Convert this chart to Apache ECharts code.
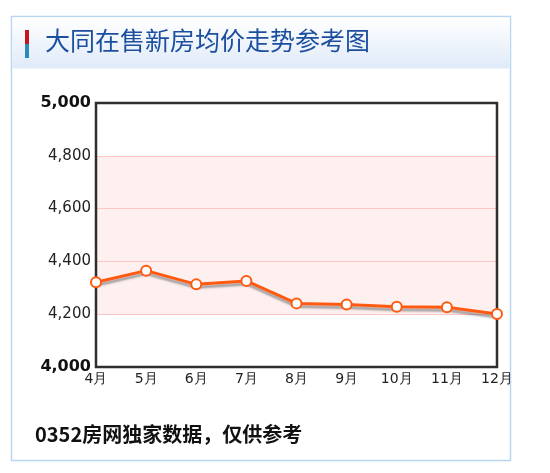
<!DOCTYPE html>
<html><head><meta charset="utf-8">
<script src="https://cdn.jsdelivr.net/npm/echarts@6/dist/echarts.min.js"></script>
<style>html,body{margin:0;padding:0;background:#fff}#c{width:550px;height:473px}</style>
</head><body><div id="c"></div>
<script>
const months = ['4月','5月','6月','7月','8月','9月','10月','11月','12月'];
const prices = [4321, 4365, 4313, 4326, 4241, 4237, 4228, 4226, 4201];
const yMin = 4000, yMax = 5000, yStep = 200;
const titleText = '大同在售新房均价走势参考图';
const footText = '0352房网独家数据，仅供参考';

const chart = echarts.init(document.getElementById('c'), null, {renderer:'canvas'});
chart.setOption({
  animation:false,
  backgroundColor:'#fff',
  graphic:[
    {type:'rect', shape:{x:11.5,y:16.5,width:499,height:444}, style:{fill:'#fff',stroke:'#b9d5f2',lineWidth:1.5}, z:-10},
    {type:'rect', shape:{x:12.5,y:17.5,width:497,height:51},
     style:{fill:new echarts.graphic.LinearGradient(0,0,0,1,[{offset:0,color:'#ffffff'},{offset:1,color:'#dfeaf8'}])}, z:-9},
    {type:'rect', shape:{x:25,y:30,width:4,height:14}, style:{fill:'#c8141e'}},
    {type:'rect', shape:{x:25,y:44,width:4,height:14}, style:{fill:'#2a8cba'}},
    {type:'text', left:45, top:28, style:{text:titleText, fill:'#1c4fa0', font:'25px "Noto Sans CJK SC"'}},
    {type:'text', left:35, top:424, style:{text:footText, fill:'#111', font:'bold 20px "Noto Sans CJK SC"'}}
  ],
  grid:{left:96, top:103, width:401, height:264, show:true, borderColor:'#2e2e2e', borderWidth:2.5, backgroundColor:'transparent', z:3},
  xAxis:{type:'category', data:months, boundaryGap:false,
    axisLine:{show:false}, axisTick:{show:false},
    axisLabel:{color:'#222', fontSize:14, fontFamily:'DejaVu Sans', margin:5, interval:0}},
  yAxis:{type:'value', min:yMin, max:yMax, interval:yStep,
    axisLine:{show:false}, axisTick:{show:false},
    splitLine:{show:true, lineStyle:{color:'#ffc6c6', width:1}},
    splitArea:{show:true, areaStyle:{color:['#ffffff','#fff0f0','#fff0f0','#fff0f0','#ffffff']}},
    axisLabel:{margin:5, fontFamily:'DejaVu Sans',
      formatter:function(v){const s=v.toLocaleString('en-US'); return (v===yMin||v===yMax)?'{b|'+s+'}':'{n|'+s+'}';},
      rich:{b:{fontWeight:'bold',fontSize:16,color:'#111',fontFamily:'DejaVu Sans'},n:{fontSize:15,color:'#222',fontFamily:'DejaVu Sans'}}}},
  series:[{
    type:'line', data:prices, symbol:'circle', symbolSize:10, showSymbol:true,
    lineStyle:{color:'#ff5a0f', width:3, shadowColor:'rgba(90,90,90,0.55)', shadowBlur:2, shadowOffsetY:3},
    itemStyle:{color:'#fff', borderColor:'#ff5a0f', borderWidth:2},
    z:5
  }]
});
</script></body></html>
